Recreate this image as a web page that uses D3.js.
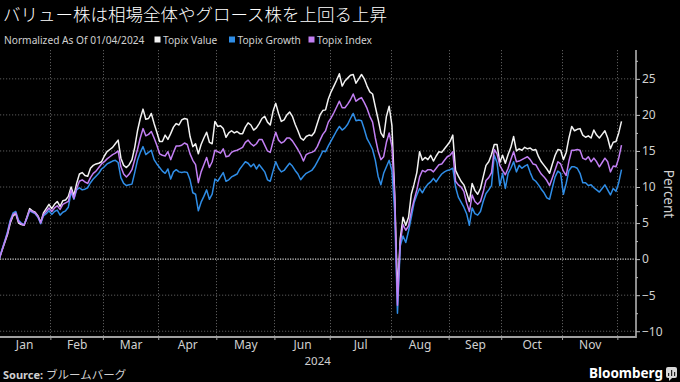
<!DOCTYPE html>
<html><head><meta charset="utf-8">
<script src="https://cdn.jsdelivr.net/npm/d3@7"></script>
<style>html,body{margin:0;padding:0;background:#000;} svg{display:block}</style>
</head><body>
<svg id="c" width="680" height="382"></svg>
<script>
const title = "バリュー株は相場全体やグロース株を上回る上昇";
const subtitle = "Normalized As Of 01/04/2024";
const seriesNames = ["Topix Value", "Topix Growth", "Topix Index"];
const months = ["Jan","Feb","Mar","Apr","May","Jun","Jul","Aug","Sep","Oct","Nov","Dec"];
const monthTradingDays = [19,19,20,21,21,20,22,21,19,22,20,2];
const yearLabel = "2024";
const yTicks = [-10,-5,0,5,10,15,20,25];
const yMinorTicks = [-7.5,-2.5,2.5,7.5,12.5,17.5,22.5,27.5];
const yLabel = "Percent";
const sourceText = "ブルームバーグ";

const topixValue = [
0,1.2,2.3,3.4,5.0,6.0,6.3,5.0,4.8,4.7,
5.8,7.0,6.7,6.5,6.0,5.1,6.4,7.0,7.6,7.0,
7.6,8.0,7.3,8.1,8.2,8.7,10.0,8.8,10.5,11.8,
12.0,11.6,11.5,12.6,13.0,13.2,13.3,13.5,14.3,14.9,
15.2,15.5,16.0,16.5,14.0,13.0,12.7,13.1,13.8,15.5,
17.8,19.5,20.8,19.4,19.5,20.2,18.8,17.6,16.3,16.3,
17.2,16.6,17.4,18.3,18.8,18.6,19.3,19.5,19.4,17.0,
15.6,16.0,14.6,15.9,16.8,17.6,16.2,16.0,19.1,18.4,
18.5,18.1,16.9,17.5,17.8,17.5,17.7,17.4,17.4,18.3,
18.9,18.6,17.9,18.2,18.8,19.5,19.8,19.0,18.6,20.5,
21.6,20.2,19.1,19.3,20.0,20.4,19.8,18.7,17.8,16.8,
16.5,17.0,17.2,17.1,17.6,18.8,20.0,20.6,20.7,22.2,
23.2,24.0,24.8,25.7,24.0,24.7,25.1,25.5,25.6,24.4,
25.0,25.6,25.0,24.0,23.2,22.9,21.1,19.4,17.5,16.9,
19.8,21.2,18.5,9.0,-4.5,2.8,5.8,4.7,5.8,9.0,
10.4,12.0,14.9,13.7,14.1,13.8,14.4,13.6,14.3,14.9,
14.8,15.3,15.8,16.3,17.2,12.3,11.5,10.8,10.3,9.2,
8.0,10.5,9.5,9.0,9.8,11.4,13.0,13.5,14.5,15.9,
15.9,13.4,14.4,13.3,14.5,15.5,17.0,15.0,15.3,15.1,
15.5,15.3,15.4,15.1,15.2,14.2,13.5,13.0,12.5,11.9,
13.2,14.4,15.2,15.1,13.8,14.8,16.8,18.4,17.8,18.0,
18.1,17.2,16.9,17.1,16.8,17.9,17.2,16.8,17.3,17.8,
16.8,15.3,16.2,16.3,17.5,19.1];

const topixGrowth = [
0,1.3,2.5,3.8,5.4,6.4,6.6,5.4,5.0,4.8,
5.6,6.7,6.5,6.3,5.8,4.9,6.0,6.3,6.7,6.2,
6.6,6.8,6.1,6.5,6.7,7.2,9.3,8.3,9.6,9.9,
9.6,9.7,9.9,10.6,11.1,11.5,11.9,12.5,12.8,13.2,
13.4,13.6,13.7,13.4,11.3,10.5,10.2,10.3,10.4,12.0,
13.7,14.8,15.6,14.5,14.8,15.1,13.8,13.2,12.7,12.2,
11.9,12.5,11.1,12.1,12.4,12.1,12.0,12.1,12.0,11.0,
9.2,9.0,6.7,7.9,8.7,9.6,8.3,9.0,11.1,10.8,
11.4,12.0,10.8,11.0,11.4,11.6,11.8,12.5,13.0,13.5,
13.3,12.8,13.2,12.5,13.1,12.6,12.1,11.0,10.8,12.2,
13.5,12.6,12.1,12.3,12.8,13.3,12.9,12.3,11.8,11.0,
11.5,11.9,12.1,12.3,12.8,13.5,14.2,15.0,14.9,15.7,
16.4,17.1,17.8,18.4,17.9,18.2,18.7,19.5,20.2,19.2,
19.3,19.2,18.0,16.7,16.0,15.2,13.7,11.5,10.3,11.9,
12.8,13.7,12.2,6.5,-7.5,1.8,3.2,2.3,3.9,5.8,
7.8,8.9,9.8,9.2,9.9,10.4,10.7,11.2,10.7,11.3,
11.8,12.1,12.3,12.4,12.6,10.0,8.6,7.9,7.2,6.3,
4.7,7.1,6.3,6.1,6.6,8.0,9.1,9.6,10.2,14.4,
13.4,10.2,11.9,9.8,11.9,12.6,13.5,12.1,13.0,12.6,
12.9,13.1,12.0,11.1,10.8,10.3,9.7,9.2,8.5,8.3,
9.9,11.4,12.2,11.9,9.0,10.5,12.3,12.8,12.8,12.6,
11.9,10.6,10.6,10.2,10.3,9.9,9.6,9.3,9.8,10.3,
9.6,8.9,9.8,9.4,10.6,12.4];

const topixIndex = [
0,1.2,2.4,3.6,5.2,6.2,6.4,5.2,4.9,4.7,
5.7,6.8,6.6,6.4,5.9,5.0,6.2,6.6,7.1,6.6,
7.1,7.4,6.9,7.6,7.8,8.0,9.6,8.4,9.8,10.8,
11.0,10.7,10.5,11.3,11.9,12.2,12.7,13.2,13.5,13.9,
14.2,14.5,14.7,15.0,12.8,11.8,11.4,11.8,12.4,13.8,
15.2,16.8,18.1,17.1,17.3,17.7,16.8,15.8,14.6,14.4,
14.3,14.9,13.8,14.8,15.7,15.7,15.8,16.1,15.9,14.6,
13.7,13.1,10.6,12.1,13.1,14.1,12.7,13.5,15.1,14.9,
14.7,15.3,14.2,14.3,14.8,15.0,15.1,15.3,15.5,16.2,
16.5,16.0,15.7,16.0,16.6,16.6,15.8,15.0,14.8,16.3,
17.6,16.5,16.1,16.3,16.8,16.8,16.4,15.8,15.2,14.5,
13.6,14.5,14.7,14.8,15.0,15.6,16.5,17.3,17.8,19.0,
19.6,20.3,21.1,21.9,21.0,21.0,21.5,22.1,22.9,21.9,
22.2,22.4,21.7,20.9,19.8,19.0,16.8,15.0,13.8,14.2,
16.2,17.5,15.6,8.5,-6.4,2.3,4.8,4.0,4.6,6.6,
8.2,9.6,11.4,12.3,12.1,12.4,12.4,12.1,12.6,13.1,
13.2,13.7,14.2,14.4,14.9,10.8,10.3,10.0,9.4,7.8,
6.6,8.9,8.0,7.6,8.0,9.3,10.9,11.3,12.0,15.2,
14.6,13.0,12.3,11.7,12.6,13.8,14.9,13.5,13.6,13.8,
14.0,14.2,13.8,13.2,13.1,12.4,11.8,11.4,10.9,10.2,
11.3,12.4,13.5,13.2,12.2,11.6,13.6,15.1,15.1,15.2,
15.1,14.0,13.8,14.2,13.5,14.0,13.5,12.8,13.4,14.0,
13.5,12.1,12.9,12.8,14.0,15.8];

const colors = {value: "#f2f2f2", growth: "#2f8de6", index: "#c27ff3"};
const latin = "'Noto Sans', 'Open Sans', sans-serif";
const cjk = "'Noto Sans CJK JP', 'Noto Sans', sans-serif";

const svg = d3.select("#c");
svg.append("rect").attr("width",680).attr("height",382).attr("fill","#000");

const plot = {left: 0, right: 636, top: 50, bottom: 337};
const n = topixValue.length;
const x = d3.scaleLinear().domain([0, n - 1]).range([-0.8, 621.5]);
const y = d3.scaleLinear().domain([-10.8, 29]).range([plot.bottom, plot.top]);

// month boundaries & mids
let cum = 0;
const boundaries = [], mids = [];
monthTradingDays.forEach((d, i) => {
  if (i > 0) boundaries.push(cum - 0.5);
  mids.push({m: months[i], c: cum - 0.5 + d / 2, d});
  cum += d;
});

// gridlines
const grid = svg.append("g");
grid.selectAll("line.h").data(yTicks.filter(t => t !== 0)).join("line")
  .attr("x1", plot.left).attr("x2", plot.right)
  .attr("y1", d => y(d)).attr("y2", d => y(d))
  .attr("stroke", "#5a5a5a").attr("stroke-width", 1).attr("stroke-dasharray", "1.2,1.8");
grid.selectAll("line.v").data(boundaries).join("line")
  .attr("x1", d => Math.round(x(d)) + 0.5).attr("x2", d => Math.round(x(d)) + 0.5)
  .attr("y1", plot.top).attr("y2", plot.bottom)
  .attr("stroke", "#5a5a5a").attr("stroke-width", 1).attr("stroke-dasharray", "1.2,1.8");
grid.append("line")
  .attr("x1", plot.left).attr("x2", plot.right)
  .attr("y1", y(0)).attr("y2", y(0))
  .attr("stroke", "#d8d8d8").attr("stroke-width", 1.2).attr("stroke-dasharray", "1.2,1.3");

// lines
svg.append("clipPath").attr("id","clip").append("rect")
  .attr("x", plot.left).attr("y", plot.top - 5).attr("width", plot.right - plot.left).attr("height", plot.bottom - plot.top + 10);
const line = d3.line().x((d, i) => x(i)).y(d => y(d));
const lines = svg.append("g").attr("clip-path", "url(#clip)");
[[topixValue, colors.value], [topixGrowth, colors.growth], [topixIndex, colors.index]].forEach(([data, col]) => {
  lines.append("path").datum(data).attr("d", line)
    .attr("fill", "none").attr("stroke", col).attr("stroke-width", 1.5)
    .attr("stroke-linejoin", "round");
});

// right axis
const yAxis = svg.append("g").attr("transform", `translate(${plot.right},0)`)
  .call(d3.axisRight(y).tickValues(yTicks).tickSize(4).tickPadding(2).tickFormat(d3.format("d")));
yAxis.select(".domain").remove();
yAxis.selectAll(".tick line").attr("stroke", "#bdbdbd");
yAxis.selectAll(".tick text").attr("fill", "#d0d0d0").style("font-family", latin).style("font-size", "12px");
const yMinor = svg.append("g").attr("transform", `translate(${plot.right},0)`)
  .call(d3.axisRight(y).tickValues(yMinorTicks).tickSize(2).tickFormat(""));
yMinor.select(".domain").remove();
yMinor.selectAll(".tick line").attr("stroke", "#bdbdbd");
svg.append("line").attr("x1", plot.right).attr("x2", plot.right).attr("y1", plot.top).attr("y2", plot.bottom + 1)
  .attr("stroke", "#bdbdbd").attr("stroke-width", 1.5);

// bottom axis
svg.append("line").attr("x1", 0).attr("x2", plot.right).attr("y1", plot.bottom).attr("y2", plot.bottom)
  .attr("stroke", "#a0a0a0").attr("stroke-width", 2);
const xTicks = svg.append("g").attr("transform", `translate(0,${plot.bottom})`)
  .call(d3.axisBottom(x).tickValues(boundaries).tickSize(3).tickFormat(""));
xTicks.select(".domain").remove();
xTicks.selectAll(".tick line").attr("stroke", "#a0a0a0");
const labelled = mids.filter(d => d.d >= 10);
const xLabels = svg.append("g").attr("transform", `translate(0,${plot.bottom})`)
  .call(d3.axisBottom(x).tickValues(labelled.map(d => d.c)).tickSize(0).tickPadding(3)
    .tickFormat((d, i) => labelled[i].m));
xLabels.select(".domain").remove();
xLabels.selectAll(".tick text").attr("fill", "#d0d0d0").style("font-family", latin).style("font-size", "12px");
const junMid = mids.find(d => d.m === "Jun");
svg.append("text").attr("x", x(junMid.c + junMid.d / 2) - 12).attr("y", 364.5)
  .attr("text-anchor", "middle").attr("fill", "#d0d0d0")
  .style("font-family", latin).style("font-size", "11.5px").text(yearLabel);

// y label
svg.append("text").attr("transform", `translate(664,194) rotate(90)`)
  .attr("text-anchor", "middle").attr("fill", "#d0d0d0")
  .style("font-family", latin).style("font-size", "13.5px").text(yLabel);

// title
svg.append("text").attr("x", 3).attr("y", 21).attr("fill", "#ffffff")
  .style("font-family", cjk).style("font-size", "17.5px").style("font-weight", 300).text(title);

// subtitle + legend
svg.append("text").attr("x", 4).attr("y", 44).attr("fill", "#d0d0d0")
  .style("font-family", latin).style("font-size", "10.2px").text(subtitle);
const legendItems = [
  {name: seriesNames[0], color: colors.value, x: 154.5},
  {name: seriesNames[1], color: colors.growth, x: 229},
  {name: seriesNames[2], color: colors.index, x: 308.5}
];
const lg = svg.append("g");
legendItems.forEach(it => {
  lg.append("rect").attr("x", it.x).attr("y", 36.5).attr("width", 6).attr("height", 6).attr("fill", it.color);
  lg.append("text").attr("x", it.x + 8.5).attr("y", 44).attr("fill", "#d0d0d0")
    .style("font-family", latin).style("font-size", "10.2px").text(it.name);
});

// source
const src = svg.append("text").attr("x", 3).attr("y", 379).attr("fill", "#d0d0d0")
  .style("font-family", latin).style("font-size", "11px");
src.append("tspan").style("font-weight", "bold").text("Source: ");
src.append("tspan").style("font-family", cjk).style("font-size", "11.5px").text(sourceText);

// Bloomberg logo
svg.append("text").attr("x", 663).attr("y", 378).attr("text-anchor", "end").attr("fill", "#ffffff")
  .style("font-family", latin).style("font-size", "13.5px").style("font-weight", "bold").text("Bloomberg");
const logo = svg.append("g").attr("transform", "translate(666,367)");
logo.append("rect").attr("width", 11).attr("height", 11).attr("rx", 2).attr("fill", "#d8d8d8");
[[2,6,2,3],[5,3,2,6],[8,5,2,4]].forEach(([bx,by,bw,bh]) =>
  logo.append("rect").attr("x", bx).attr("y", by).attr("width", bw - 0.8).attr("height", bh).attr("fill", "#222"));
logo.append("path").attr("d", "M3,11 L3,14 L6,11 Z").attr("fill", "#d8d8d8");
</script>
</body></html>
